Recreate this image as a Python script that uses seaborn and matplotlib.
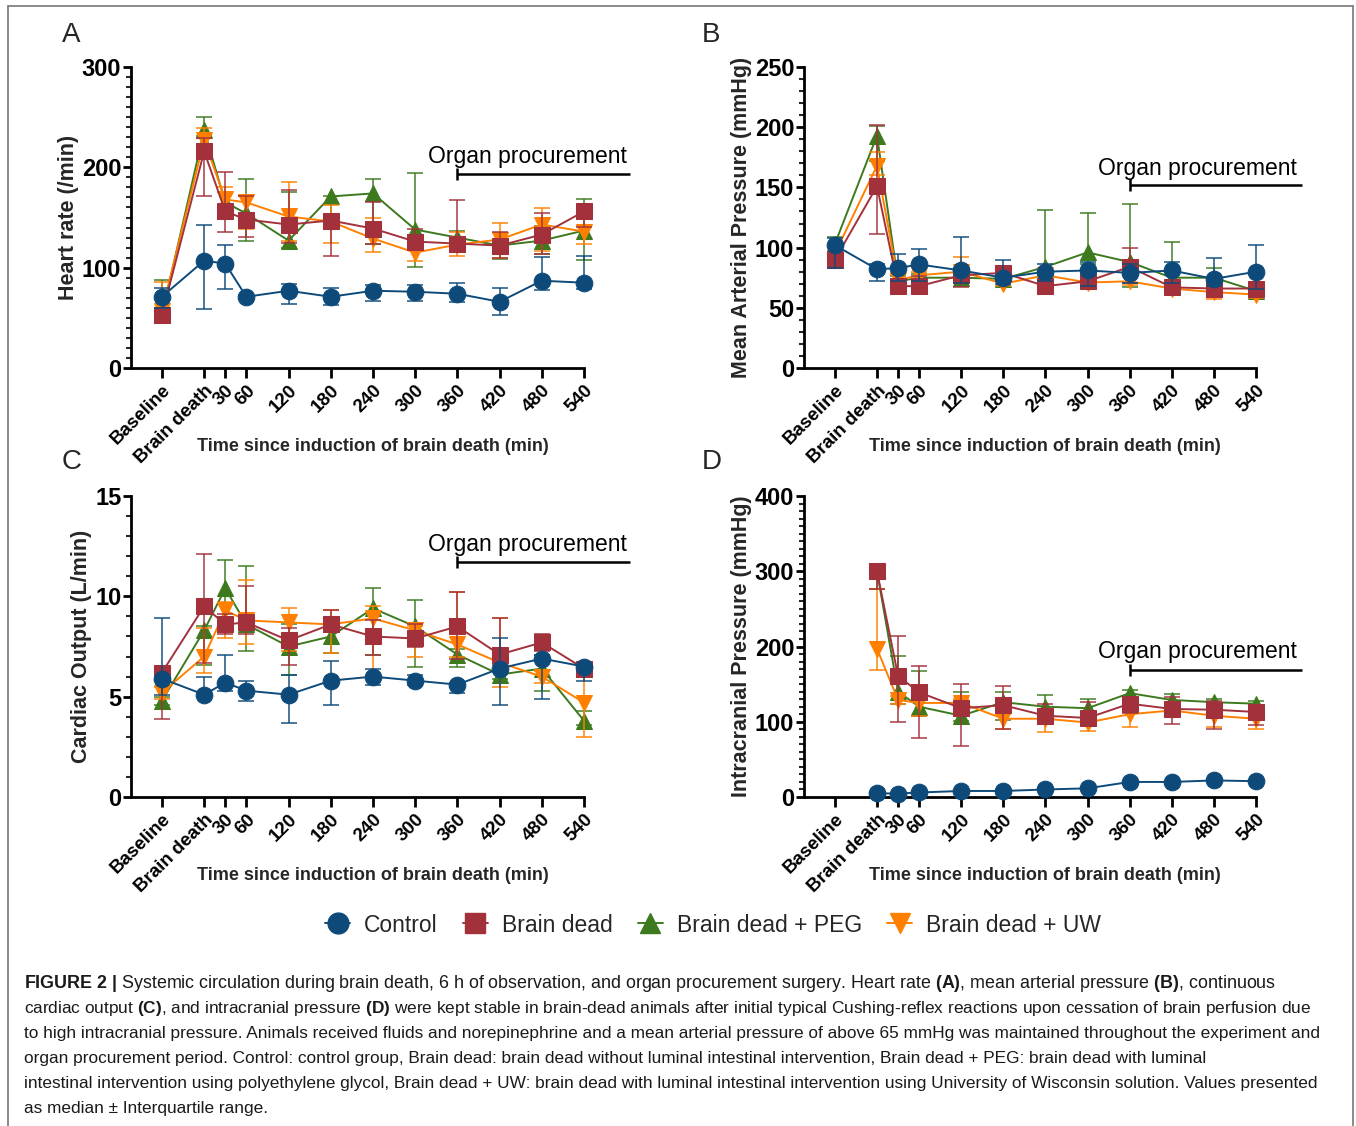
import numpy as np
import pandas as pd
import matplotlib
matplotlib.use("Agg")
import matplotlib.pyplot as plt
from matplotlib.lines import Line2D
from matplotlib.ticker import MultipleLocator
import seaborn as sns

nan = np.nan

# ---- x axis ----
TIME_POINTS = [-60, 0, 30, 60, 120, 180, 240, 300, 360, 420, 480, 540]
TIME_LABELS = ["Baseline", "Brain death", "30", "60", "120", "180", "240",
               "300", "360", "420", "480", "540"]
GROUPS = ["Control", "Brain dead", "Brain dead + PEG", "Brain dead + UW"]

# ---- A: heart rate (/min) ----
HR_CTRL = [71, 107, 104, 71, 77, 71, 77, 76, 74, 66, 87, 85]
HR_CTRL_LO = [60, 59, 79, 69, 64, 63, 67, 67, 66, 53, 78, 79]
HR_CTRL_HI = [80, 143, 123, 73, 84, 80, 83, 83, 85, 80, 111, 112]
HR_BD = [53, 216, 156, 148, 143, 147, 139, 126, 124, 122, 133, 156]
HR_BD_LO = [48, 171, 136, 131, 125, 112, 124, 122, 120, 110, 114, 141]
HR_BD_HI = [60, 229, 195, 171, 177, 152, 165, 139, 167, 136, 154, 160]
HR_PEG = [53, 237, 165, 154, 127, 171, 174, 138, 130, 122, 127, 137]
HR_PEG_LO = [47, 231, 149, 127, 120, 140, 124, 101, 120, 109, 114, 108]
HR_PEG_HI = [88, 250, 175, 188, 175, 171, 188, 194, 137, 127, 142, 168]
HR_UW = [57, 227, 168, 165, 151, 146, 129, 115, 123, 128, 143, 136]
HR_UW_LO = [50, 214, 157, 139, 127, 125, 116, 107, 112, 110, 117, 124]
HR_UW_HI = [86, 239, 180, 171, 185, 162, 150, 128, 136, 145, 159, 142]

# ---- B: mean arterial pressure (mmHg) ----
MAP_CTRL = [102, 82, 83, 86, 81, 75, 80, 81, 79, 81, 74, 80]
MAP_CTRL_LO = [83, 72, 72, 72, 71, 70, 72, 68, 71, 71, 68, 66]
MAP_CTRL_HI = [108, 86, 95, 99, 109, 90, 86, 88, 86, 88, 91, 102]
MAP_BD = [90, 151, 68, 68, 77, 79, 68, 72, 84, 67, 66, 66]
MAP_BD_LO = [84, 111, 63, 63, 67, 72, 65, 68, 71, 62, 62, 62]
MAP_BD_HI = [96, 202, 74, 76, 80, 83, 72, 81, 100, 72, 69, 70]
MAP_PEG = [103, 193, 72, 75, 75, 74, 84, 96, 88, 75, 75, 64]
MAP_PEG_LO = [97, 172, 68, 72, 72, 72, 72, 86, 67, 70, 70, 61]
MAP_PEG_HI = [109, 201, 76, 78, 78, 76, 131, 129, 136, 105, 83, 67]
MAP_UW = [95, 168, 73, 77, 80, 70, 77, 71, 72, 66, 63, 61]
MAP_UW_LO = [88, 160, 68, 74, 76, 68, 74, 69, 69, 63, 57, 58]
MAP_UW_HI = [100, 179, 78, 80, 92, 74, 80, 74, 76, 69, 67, 64]

# ---- C: cardiac output (L/min) ----
CO_CTRL = [5.9, 5.1, 5.7, 5.3, 5.1, 5.8, 6.0, 5.8, 5.6, 6.4, 6.9, 6.5]
CO_CTRL_LO = [5.1, 5.0, 5.3, 4.8, 3.7, 4.6, 5.6, 5.6, 5.2, 4.6, 4.9, 5.8]
CO_CTRL_HI = [8.9, 6.0, 7.1, 5.8, 6.1, 6.8, 6.4, 6.1, 5.7, 7.9, 7.1, 6.6]
CO_BD = [6.2, 9.5, 8.6, 8.7, 7.8, 8.6, 8.0, 7.9, 8.5, 7.1, 7.7, 6.4]
CO_BD_LO = [3.9, 6.7, 8.1, 8.1, 6.6, 8.2, 7.1, 7.5, 6.9, 6.6, 7.3, 6.0]
CO_BD_HI = [6.5, 12.1, 9.1, 10.5, 8.4, 9.3, 8.8, 8.6, 10.2, 8.9, 8.1, 6.7]
CO_PEG = [4.8, 8.3, 10.4, 8.6, 7.5, 8.0, 9.4, 8.5, 7.1, 6.1, 6.4, 3.8]
CO_PEG_LO = [4.6, 6.6, 8.2, 7.3, 6.1, 7.2, 7.1, 6.5, 6.5, 5.9, 5.3, 3.6]
CO_PEG_HI = [5.0, 8.5, 11.8, 11.5, 8.6, 8.7, 10.4, 9.8, 7.4, 6.3, 7.1, 4.3]
CO_UW = [5.2, 7.0, 9.3, 8.8, 8.7, 8.6, 8.9, 8.3, 7.6, 6.7, 6.0, 4.7]
CO_UW_LO = [4.9, 6.2, 7.9, 7.6, 7.3, 7.2, 6.0, 7.0, 7.0, 5.5, 5.7, 3.0]
CO_UW_HI = [5.5, 8.4, 9.7, 10.8, 9.4, 9.3, 9.5, 8.5, 10.2, 8.9, 6.3, 6.3]

# ---- D: intracranial pressure (mmHg) ----
ICP_CTRL = [nan, 5, 4.5, 6, 8, 8, 10, 11.5, 20, 20, 22, 21]
ICP_CTRL_LO = [nan, 5, 4.5, 6, 8, 8, 10, 11.5, 20, 20, 22, 21]
ICP_CTRL_HI = [nan, 5, 4.5, 6, 8, 8, 10, 11.5, 20, 20, 22, 21]
ICP_BD = [nan, 300, 161, 139, 118, 122, 108, 105, 124, 117, 116, 113]
ICP_BD_LO = [nan, 277, 100, 79, 68, 90, 100, 97, 112, 97, 91, 96]
ICP_BD_HI = [nan, 300, 214, 174, 150, 147, 124, 126, 130, 133, 128, 118]
ICP_PEG = [nan, 300, 140, 120, 108, 126, 120, 118, 138, 129, 126, 124]
ICP_PEG_LO = [nan, 277, 124, 108, 101, 102, 112, 110, 130, 124, 121, 119]
ICP_PEG_HI = [nan, 300, 188, 168, 139, 140, 135, 130, 142, 137, 130, 127]
ICP_UW = [nan, 197, 129, 125, 125, 104, 104, 99, 110, 115, 108, 104]
ICP_UW_LO = [nan, 169, 124, 108, 118, 90, 86, 88, 93, 106, 93, 90]
ICP_UW_HI = [nan, 277, 134, 130, 130, 110, 110, 104, 116, 120, 112, 108]

Y_LABELS = ["Heart rate (/min)", "Mean Arterial Pressure (mmHg)",
            "Cardiac Output (L/min)", "Intracranial Pressure (mmHg)"]
X_LABEL = "Time since induction of brain death (min)"
ANNOT_TEXT = "Organ procurement"

CAPTION_LINES = [
    r"$\bf{FIGURE\ 2\ |}$ Systemic circulation during brain death, 6 h of observation, and organ procurement surgery. Heart rate $\bf{(A)}$, mean arterial pressure $\bf{(B)}$, continuous",
    r"cardiac output $\bf{(C)}$, and intracranial pressure $\bf{(D)}$ were kept stable in brain-dead animals after initial typical Cushing-reflex reactions upon cessation of brain perfusion due",
    "to high intracranial pressure. Animals received fluids and norepinephrine and a mean arterial pressure of above 65 mmHg was maintained throughout the experiment and",
    "organ procurement period. Control: control group, Brain dead: brain dead without luminal intestinal intervention, Brain dead + PEG: brain dead with luminal",
    "intestinal intervention using polyethylene glycol, Brain dead + UW: brain dead with luminal intestinal intervention using University of Wisconsin solution. Values presented",
    "as median \u00b1 Interquartile range.",
]

# ---- style ----
COLORS = {"Control": "#0d4a7a", "Brain dead": "#a3313c",
          "Brain dead + PEG": "#3d7a1e", "Brain dead + UW": "#ff8000"}
MARKERS = {"Control": "o", "Brain dead": "s",
           "Brain dead + PEG": "^", "Brain dead + UW": "v"}

sns.set_theme(style="white")
plt.rcParams["font.family"] = ["Liberation Sans", "DejaVu Sans"]
plt.rcParams["mathtext.fontset"] = "custom"
plt.rcParams["mathtext.rm"] = "Liberation Sans"
plt.rcParams["mathtext.it"] = "Liberation Sans:italic"
plt.rcParams["mathtext.bf"] = "Liberation Sans:bold"

W, H = 1356, 1126
fig = plt.figure(figsize=(W / 100, H / 100), dpi=100)
fig.patch.set_facecolor("white")


def px_axes(l, t, r, b):
    return fig.add_axes([l / W, 1 - b / H, (r - l) / W, (b - t) / H])


panels = [
    dict(letter="A", rect=(131, 67, 584, 368), ylim=(0, 300), major=100, minor=10,
         series=[(HR_CTRL, HR_CTRL_LO, HR_CTRL_HI), (HR_BD, HR_BD_LO, HR_BD_HI),
                 (HR_PEG, HR_PEG_LO, HR_PEG_HI), (HR_UW, HR_UW_LO, HR_UW_HI)],
         ann=(459, 211, 193), letter_xy=(62, 35)),
    dict(letter="B", rect=(804, 67, 1256, 368), ylim=(0, 250), major=50, minor=10,
         series=[(MAP_CTRL, MAP_CTRL_LO, MAP_CTRL_HI), (MAP_BD, MAP_BD_LO, MAP_BD_HI),
                 (MAP_PEG, MAP_PEG_LO, MAP_PEG_HI), (MAP_UW, MAP_UW_LO, MAP_UW_HI)],
         ann=(457, 166, 152), letter_xy=(702, 35)),
    dict(letter="C", rect=(131, 496, 584, 797), ylim=(0, 15), major=5, minor=1,
         series=[(CO_CTRL, CO_CTRL_LO, CO_CTRL_HI), (CO_BD, CO_BD_LO, CO_BD_HI),
                 (CO_PEG, CO_PEG_LO, CO_PEG_HI), (CO_UW, CO_UW_LO, CO_UW_HI)],
         ann=(459, 12.6, 11.7), letter_xy=(62, 462)),
    dict(letter="D", rect=(804, 496, 1256, 797), ylim=(0, 400), major=100, minor=10,
         series=[(ICP_CTRL, ICP_CTRL_LO, ICP_CTRL_HI), (ICP_BD, ICP_BD_LO, ICP_BD_HI),
                 (ICP_PEG, ICP_PEG_LO, ICP_PEG_HI), (ICP_UW, ICP_UW_LO, ICP_UW_HI)],
         ann=(457, 193, 169), letter_xy=(702, 462)),
]

draw_order = [2, 3, 1, 0]  # green, orange, red, blue on top

for p_i, p in enumerate(panels):
    ax = px_axes(*p["rect"])
    rows = []
    for g, (med, lo, hi) in zip(GROUPS, p["series"]):
        for t, m, l, h in zip(TIME_POINTS, med, lo, hi):
            rows.append(dict(time=t, value=m, lo=l, hi=h, group=g))
    df = pd.DataFrame(rows)

    for k, gi in enumerate(draw_order):
        g = GROUPS[gi]
        sub = df[df["group"] == g].dropna()
        yerr = np.vstack([sub["value"] - sub["lo"], sub["hi"] - sub["value"]])
        ax.errorbar(sub["time"], sub["value"], yerr=yerr, fmt="none",
                    ecolor=COLORS[g], elinewidth=1.4, capsize=6, capthick=1.4,
                    alpha=0.75, zorder=2 + k * 2, clip_on=False)
        sns.lineplot(data=sub, x="time", y="value", ax=ax, color=COLORS[g],
                     marker=MARKERS[g], markersize=12, markeredgecolor=COLORS[g],
                     linewidth=1.4, zorder=3 + k * 2, legend=False, clip_on=False)

    ax.set_xlim(-104, 540)
    ax.set_ylim(*p["ylim"])
    ax.set_xticks(TIME_POINTS)
    ax.set_xticklabels(TIME_LABELS, rotation=45, ha="right", rotation_mode="anchor",
                       fontsize=13.5, fontweight="bold")
    ax.yaxis.set_major_locator(MultipleLocator(p["major"]))
    ax.yaxis.set_minor_locator(MultipleLocator(p["minor"]))
    for lab in ax.get_yticklabels():
        lab.set_fontweight("bold")
        lab.set_fontsize(17)
    ax.tick_params(axis="y", which="major", direction="out", length=6, width=2,
                   left=True, pad=1, colors="black")
    ax.tick_params(axis="y", which="minor", direction="out", length=3.5, width=1.5, left=True)
    ax.tick_params(axis="x", which="major", direction="out", length=7, width=2,
                   bottom=True, pad=3, colors="black")
    for s in ["top", "right"]:
        ax.spines[s].set_visible(False)
    for s in ["left", "bottom"]:
        ax.spines[s].set_linewidth(2)
        ax.spines[s].set_color("black")
    ax.set_ylabel(Y_LABELS[p_i], fontsize=15.5, fontweight="bold", labelpad=2)
    ax.set_xlabel(X_LABEL, fontsize=13, fontweight="bold")
    ax.xaxis.set_label_coords(0.534, -0.232)
    ax.set_facecolor("white")

    # organ procurement annotation
    tx, ty, ly = p["ann"]
    ax.text(tx, ty, ANNOT_TEXT, fontsize=16.5, ha="center", va="center",
            color="black", clip_on=False)
    ax.plot([360, 605], [ly, ly], color="black", lw=1.8, clip_on=False,
            solid_capstyle="butt")
    ax.plot([360], [ly], marker="|", markersize=9, markeredgewidth=1.8,
            color="black", clip_on=False)

    fig.text(p["letter_xy"][0] / W, 1 - p["letter_xy"][1] / H, p["letter"],
             fontsize=20, ha="left", va="center")

# legend
handles = [Line2D([0], [0], color=COLORS[g], marker=MARKERS[g], markersize=15,
                  linewidth=1.4) for g in GROUPS]
fig.legend(handles, GROUPS, loc="center", bbox_to_anchor=(713 / W, 1 - 925 / H),
           ncol=4, frameon=False, fontsize=16.5, handlelength=1.1,
           columnspacing=1.1, handletextpad=0.6)

# caption
for i, line in enumerate(CAPTION_LINES):
    fig.text(24 / W, 1 - (984 + i * 24.8) / H, line,
             fontsize=12.9 if i == 0 else 12.45,
             ha="left", va="center", color="#1a1a1a")

# border
for xs, ys in [([8, 8], [H, 6]), ([8, 1353], [6, 6]), ([1353, 1353], [6, H])]:
    fig.add_artist(Line2D([x / W for x in xs], [1 - y / H for y in ys],
                          color="#777777", lw=1.2))

fig.savefig("out.png", dpi=100, facecolor="white")
